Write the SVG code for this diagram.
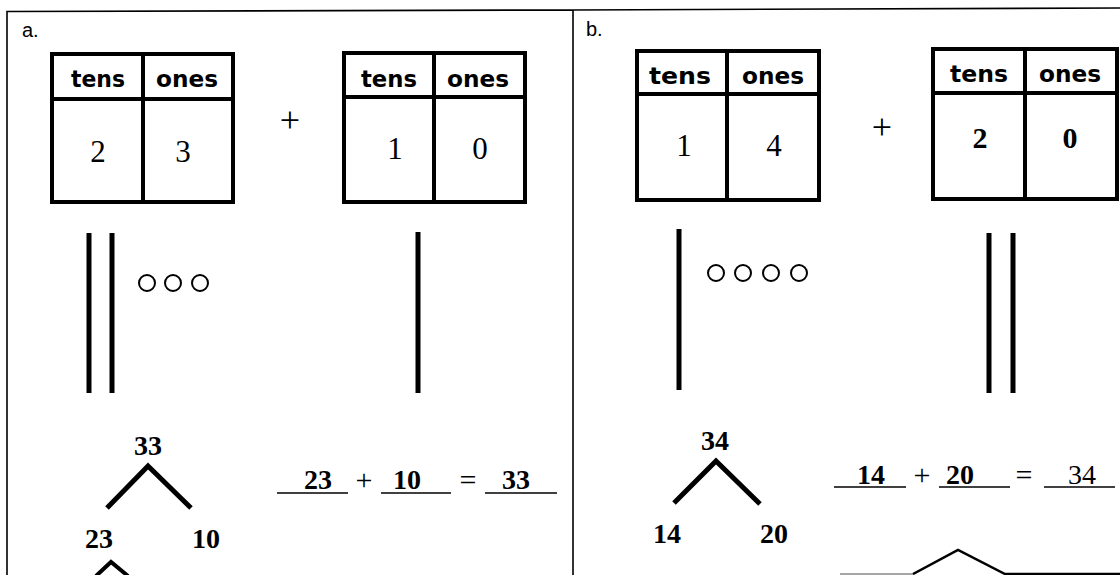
<svg xmlns="http://www.w3.org/2000/svg" width="1120" height="575" viewBox="0 0 1120 575">
<style>
.frame{fill:none;stroke:#000;stroke-width:1.6}
.tbl{fill:#fff;stroke:#000;stroke-width:4}
.hd{font-family:"DejaVu Sans",sans-serif;font-weight:bold;font-size:23px;text-anchor:middle;fill:#000}
.dg{font-family:"Liberation Serif",serif;font-size:31px;text-anchor:middle;fill:#000}
.dgb{font-family:"Liberation Serif",serif;font-weight:bold;font-size:30px;text-anchor:middle;fill:#000}
.num{font-family:"Liberation Serif",serif;font-weight:bold;font-size:28px;text-anchor:middle;fill:#000}
.op{font-family:"Liberation Serif",serif;font-size:30px;text-anchor:middle;fill:#000}
.plus{font-family:"Liberation Serif",serif;font-size:36px;text-anchor:middle;fill:#000}
.lbl{font-family:"Liberation Sans",sans-serif;font-size:20px;fill:#000}
.bar{stroke:#000;stroke-width:5;fill:none}
.ring{fill:none;stroke:#000;stroke-width:2}
.bond{fill:none;stroke:#000;stroke-width:5;stroke-linejoin:miter}
.ul{stroke:#000;stroke-width:1.5}
</style>
<rect x="0" y="0" width="1120" height="575" fill="#fff"/>
<g id="frame">
<path class="frame" d="M7 575 L7 11.5 L573 10 L1120 8 M573 10 L573 575"/>
<text class="lbl" x="22" y="37">a.</text>
<text class="lbl" x="586" y="36">b.</text>
</g>
<g id="table-a1">
<rect class="tbl" x="52" y="54" width="181" height="148"/>
<line class="tbl" x1="52" y1="99" x2="233" y2="99"/>
<line class="tbl" x1="143" y1="54" x2="143" y2="202"/>
<text class="hd" x="98" y="87" textLength="54" lengthAdjust="spacingAndGlyphs">tens</text>
<text class="hd" x="187" y="87" textLength="62" lengthAdjust="spacingAndGlyphs">ones</text>
<text class="dg" x="98" y="162">2</text>
<text class="dg" x="183" y="162">3</text>
</g>
<g id="plus-a"><text class="plus" x="290" y="132">+</text></g>
<g id="table-a2">
<rect class="tbl" x="344" y="53" width="181" height="149"/>
<line class="tbl" x1="344" y1="97" x2="525" y2="97"/>
<line class="tbl" x1="434" y1="53" x2="434" y2="202"/>
<text class="hd" x="389" y="87" textLength="56" lengthAdjust="spacingAndGlyphs">tens</text>
<text class="hd" x="478" y="87" textLength="62" lengthAdjust="spacingAndGlyphs">ones</text>
<text class="dg" x="395" y="159">1</text>
<text class="dg" x="480" y="159">0</text>
</g>
<g id="table-b1">
<rect class="tbl" x="637" y="51" width="182" height="149"/>
<line class="tbl" x1="637" y1="94" x2="819" y2="94"/>
<line class="tbl" x1="727" y1="51" x2="727" y2="200"/>
<text class="hd" x="680" y="84" textLength="62" lengthAdjust="spacingAndGlyphs">tens</text>
<text class="hd" x="773" y="84" textLength="62" lengthAdjust="spacingAndGlyphs">ones</text>
<text class="dg" x="684" y="156">1</text>
<text class="dg" x="774" y="156">4</text>
</g>
<g id="plus-b"><text class="plus" x="882" y="139">+</text></g>
<g id="table-b2">
<rect class="tbl" x="933" y="49" width="184" height="150"/>
<line class="tbl" x1="933" y1="93" x2="1117" y2="93"/>
<line class="tbl" x1="1025" y1="49" x2="1025" y2="199"/>
<text class="hd" x="979" y="82" textLength="58" lengthAdjust="spacingAndGlyphs">tens</text>
<text class="hd" x="1070" y="82" textLength="62" lengthAdjust="spacingAndGlyphs">ones</text>
<text class="dgb" x="980" y="148">2</text>
<text class="dgb" x="1070" y="148">0</text>
</g>
<g id="blocks-a1">
<line class="bar" x1="89" y1="233" x2="89" y2="393"/>
<line class="bar" x1="112" y1="233" x2="112" y2="393"/>
<circle class="ring" cx="147" cy="283" r="8"/>
<circle class="ring" cx="173" cy="283" r="8"/>
<circle class="ring" cx="200" cy="283" r="8"/>
</g>
<g id="blocks-a2">
<line class="bar" x1="418" y1="232" x2="418" y2="393"/>
</g>
<g id="blocks-b1">
<line class="bar" x1="679" y1="229" x2="679" y2="390"/>
<circle class="ring" cx="716" cy="273" r="8"/>
<circle class="ring" cx="743" cy="273" r="8"/>
<circle class="ring" cx="771" cy="273" r="8"/>
<circle class="ring" cx="799" cy="273" r="8"/>
</g>
<g id="blocks-b2">
<line class="bar" x1="989" y1="233" x2="989" y2="393"/>
<line class="bar" x1="1013" y1="233" x2="1013" y2="393"/>
</g>
<g id="bond-a">
<text class="num" x="148" y="455">33</text>
<path class="bond" d="M107 508 L148 466 L191 508"/>
<text class="num" x="99" y="548">23</text>
<text class="num" x="206" y="548">10</text>
<path class="bond" style="stroke-width:4" d="M96 576 L111 562 L128 576"/>
</g>
<g id="equation-a">
<line class="ul" x1="277" y1="493" x2="348" y2="493"/>
<line class="ul" x1="381" y1="493" x2="451" y2="493"/>
<line class="ul" x1="485" y1="493" x2="557" y2="493"/>
<text class="num" x="318" y="489">23</text>
<text class="op" x="364" y="490">+</text>
<text class="num" x="407" y="489">10</text>
<text class="op" x="468" y="490">=</text>
<text class="num" x="516" y="489">33</text>
</g>
<g id="bond-b">
<text class="num" x="715" y="450">34</text>
<path class="bond" d="M674 503 L716 461 L760 504"/>
<text class="num" x="667" y="543">14</text>
<text class="num" x="774" y="543">20</text>
</g>
<g id="equation-b">
<line class="ul" x1="834" y1="487" x2="906" y2="487"/>
<line class="ul" x1="939" y1="487" x2="1010" y2="487"/>
<line class="ul" x1="1044" y1="487" x2="1115" y2="487"/>
<text class="num" x="871" y="484">14</text>
<text class="op" x="922" y="485">+</text>
<text class="num" x="960" y="484">20</text>
<text class="op" x="1024" y="485">=</text>
<text class="dg" style="font-size:28px" x="1082" y="484">34</text>
</g>
<g id="connectors">
<path fill="none" stroke="#888" stroke-width="1.5" d="M840 574 L913 574"/>
<path fill="none" stroke="#000" stroke-width="2.5" d="M913 574 L958 550 L1005 574 L1120 574"/>
</g>
</svg>
